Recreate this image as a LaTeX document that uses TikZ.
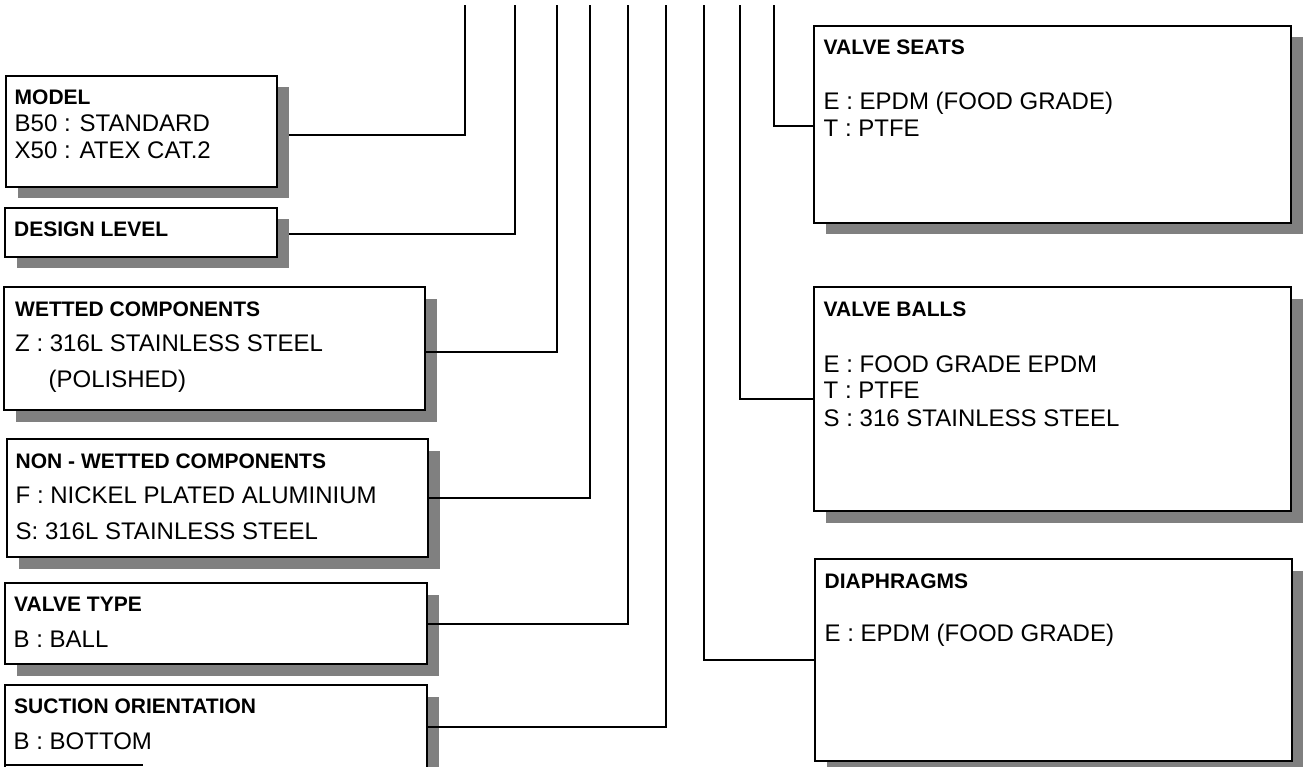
\documentclass[tikz,border=0pt]{standalone}
\usepackage{fontspec}
\setmainfont{Liberation Sans}
\usetikzlibrary{shadows}
\definecolor{shadowgray}{RGB}{128,128,128}
\begin{document}
\begin{tikzpicture}[x=1pt, y=-1pt,
    box/.style={draw, line width=2pt, fill=white, inner sep=0pt, outer sep=0pt, anchor=north west,
        drop shadow={shadow xshift=11.5pt, shadow yshift=-11.5pt, fill=shadowgray, opacity=1}},
    head/.style={anchor=base west, inner sep=0pt, font=\fontsize{21}{25}\selectfont\bfseries},
    item/.style={anchor=base west, inner sep=0pt, font=\fontsize{24}{28}\selectfont},
    link/.style={line width=2pt}]
    \useasboundingbox (0,0) rectangle (1303,767);
    % boxes on the left
    \node[box, minimum width=271pt, minimum height=111pt] (model) at (6,76) {};
    \node[box, minimum width=272pt, minimum height=49pt] (design) at (5,208) {};
    \node[box, minimum width=421pt, minimum height=123pt] (wetted) at (4,287) {};
    \node[box, minimum width=421pt, minimum height=118pt] (nonwetted) at (7,439) {};
    \node[box, minimum width=422pt, minimum height=81pt] (valvetype) at (5,583) {};
    \node[box, minimum width=422pt, minimum height=90pt] (suction) at (5,685) {};
    % boxes on the right
    \node[box, minimum width=477pt, minimum height=197pt] (seats) at (814,26) {};
    \node[box, minimum width=477pt, minimum height=224pt] (balls) at (814,287) {};
    \node[box, minimum width=477pt, minimum height=202pt] (diaphragms) at (815,559) {};
    \draw[link] (5,765) -- (143,765);
    % texts
    \node[head] (model-h) at (14.5,105) {MODEL};
    \node[item] (model-1) at (14.5,132) {B50 : STANDARD};
    \node[item] (model-2) at (14.5,159) {X50 : ATEX CAT.2};
    \node[head] (design-h) at (14,237) {DESIGN LEVEL};
    \node[head] (wetted-h) at (15,316) {WETTED COMPONENTS};
    \node[item] (wetted-1) at (15,351) {Z : 316L STAINLESS STEEL};
    \node[item] (wetted-2) at (48.5,387) {(POLISHED)};
    \node[head] (nonwetted-h) at (15.5,468) {NON - WETTED COMPONENTS};
    \node[item] (nonwetted-1) at (15.5,503) {F : NICKEL PLATED ALUMINIUM};
    \node[item] (nonwetted-2) at (15.5,539) {S: 316L STAINLESS STEEL};
    \node[head] (valvetype-h) at (14,611.5) {VALVE TYPE};
    \node[item] (valvetype-1) at (13.5,647) {B : BALL};
    \node[head] (suction-h) at (14,713.5) {SUCTION ORIENTATION};
    \node[item] (suction-1) at (13.5,749) {B : BOTTOM};
    \node[head] (seats-h) at (823.5,55) {VALVE SEATS};
    \node[item] (seats-1) at (823.5,110) {E : EPDM (FOOD GRADE)};
    \node[item] (seats-2) at (823.5,136.5) {T : PTFE};
    \node[head] (balls-h) at (823.5,316) {VALVE BALLS};
    \node[item] (balls-1) at (823.5,372) {E : FOOD GRADE EPDM};
    \node[item] (balls-2) at (823.5,398.5) {T : PTFE};
    \node[item] (balls-3) at (823.5,426) {S : 316 STAINLESS STEEL};
    \node[head] (diaphragms-h) at (824.5,588) {DIAPHRAGMS};
    \node[item] (diaphragms-1) at (824.5,641.5) {E : EPDM (FOOD GRADE)};
    % tops of the code lines
    \coordinate (bus-model) at (465,5);
    \coordinate (bus-design) at (515,5);
    \coordinate (bus-wetted) at (557,5);
    \coordinate (bus-nonwetted) at (590,5);
    \coordinate (bus-valvetype) at (628,5);
    \coordinate (bus-suction) at (666,5);
    \coordinate (bus-diaphragms) at (704,5);
    \coordinate (bus-balls) at (740,5);
    \coordinate (bus-seats) at (774,5);
    \draw[link] ([xshift=12pt, yshift=-3.5pt]model.east) -| (bus-model);
    \draw[link] ([xshift=12pt, yshift=-1.5pt]design.east) -| (bus-design);
    \draw[link] ([yshift=-3.5pt]wetted.east) -| (bus-wetted);
    \draw[link] (nonwetted.east) -| (bus-nonwetted);
    \draw[link] (valvetype.east) -| (bus-valvetype);
    \draw[link] ([yshift=3pt]suction.east) -| (bus-suction);
    \draw[link] (diaphragms.west) -| (bus-diaphragms);
    \draw[link] (balls.west) -| (bus-balls);
    \draw[link] ([yshift=-1.5pt]seats.west) -| (bus-seats);
\end{tikzpicture}
\end{document}
